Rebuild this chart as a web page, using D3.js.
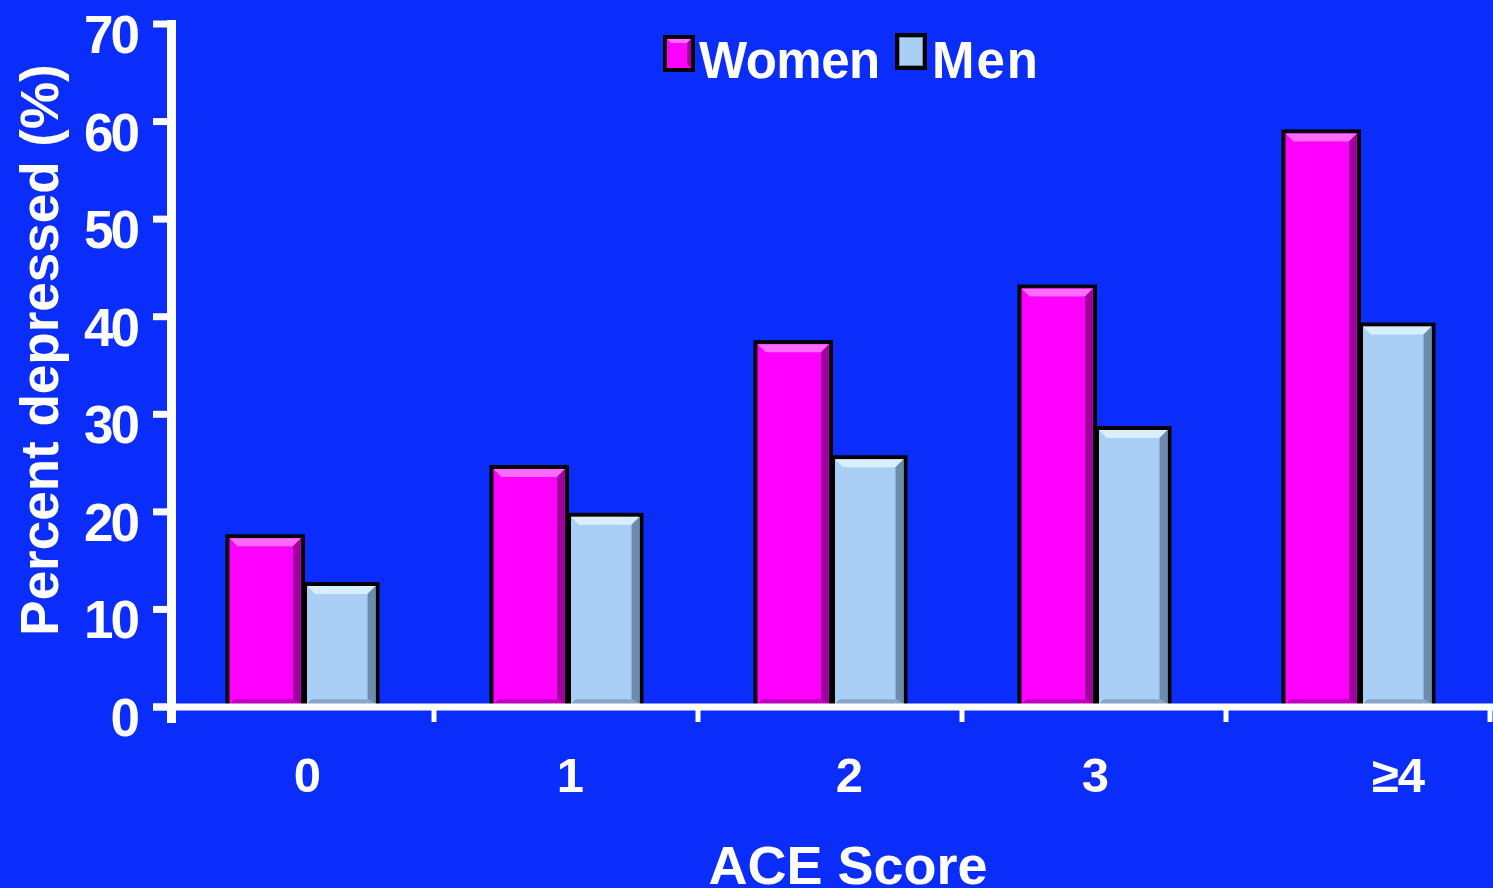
<!DOCTYPE html>
<html><head><meta charset="utf-8">
<script src="https://cdn.jsdelivr.net/npm/d3@7"></script>
<style>
html,body{margin:0;padding:0;background:#0a2dfc;overflow:hidden;}
text{font-family:"Liberation Sans",Arial,sans-serif;font-weight:bold;fill:#fff;}
</style></head>
<body><svg id="c" width="1493" height="888"></svg>
<script>
const categories = ["0","1","2","3","\u22654"];
const series = ["Women","Men"];
const women = [17.7, 24.8, 37.6, 43.3, 59.2];
const men = [12.8, 19.9, 25.8, 28.8, 39.4];
const yTicks = [0,10,20,30,40,50,60,70];
// small layout nudges for category labels (px), matching the original slide
const labelNudge = [5, 4, 19, 1, 40];

const colors = {
  Women:{base:"#ff00ff", light:"#ff6bff", dark:"#a1009e", bottom:"#c000bf"},
  Men:{base:"#aacff5", light:"#d9efff", dark:"#6d8cad", bottom:"#89a6c6"}
};

const svg = d3.select("#c");
svg.append("rect").attr("width",1493).attr("height",888).attr("fill","#0a2dfc");

const x0 = d3.scaleBand().domain(categories).range([170,1490]).padding(0);
const x1 = d3.scaleBand().domain(series).range([0,x0.bandwidth()]).paddingInner(0).paddingOuter(0.725);
const y = d3.scaleLinear().domain([0,70]).range([707,24]);

const data = categories.map((c,i)=>({cat:c, vals:[{s:"Women",v:women[i]},{s:"Men",v:men[i]}]}));

const bw = x1.bandwidth();
const bevel = 8;
const g = svg.append("g");
const pts = a => a.map(p=>p.join(",")).join(" ");
data.forEach(d=>{
  d.vals.forEach(e=>{
    const c = colors[e.s];
    const xl = x0(d.cat)+x1(e.s) + (e.s==="Women"? 0 : 1), xr = x0(d.cat)+x1(e.s)+bw + (e.s==="Women"? 3 : 1);
    const yt = y(e.v), yb = y(0)-3;
    const bg = g.append("g");
    bg.append("rect").attr("x",xl).attr("y",yt).attr("width",xr-xl).attr("height",yb-yt).attr("fill","#000");
    const il = xl+4, ir = xr-4, it = yt+4, ib = yb;
    bg.append("rect").attr("x",il).attr("y",it).attr("width",ir-il).attr("height",ib-it).attr("fill",c.base);
    bg.append("polygon").attr("points",pts([[il,it],[ir,it],[ir-bevel,it+bevel],[il+bevel,it+bevel]])).attr("fill",c.light);
    bg.append("polygon").attr("points",pts([[ir,it],[ir,ib],[ir-bevel,ib-bevel*0.6],[ir-bevel,it+bevel]])).attr("fill",c.dark);
    bg.append("polygon").attr("points",pts([[il,ib],[ir,ib],[ir-bevel,ib-bevel*0.6],[il+bevel*0.6,ib-bevel*0.6]])).attr("fill",c.bottom);
  });
});

// x axis
svg.append("line").attr("x1",153).attr("x2",1493).attr("y1",y(0)).attr("y2",y(0)).attr("stroke","#fff").attr("stroke-width",7);
const bounds = categories.map(c=>x0(c)).concat([x0.range()[1]]);
bounds.forEach((b,i)=>{
  if(i===0) return;
  svg.append("line").attr("x1",b).attr("x2",b).attr("y1",y(0)).attr("y2",722).attr("stroke","#fff").attr("stroke-width",5);
});
// y axis
svg.append("line").attr("x1",171.5).attr("x2",171.5).attr("y1",20).attr("y2",723).attr("stroke","#fff").attr("stroke-width",9);
yTicks.forEach(t=>{
  svg.append("line").attr("x1",153).attr("x2",171).attr("y1",y(t)).attr("y2",y(t)).attr("stroke","#fff").attr("stroke-width",7);
  svg.append("text").attr("x",137).attr("y",y(t)+29).attr("text-anchor","end")
    .attr("font-size",53).attr("letter-spacing",-3).text(t);
});
// x labels
categories.forEach((c,i)=>{
  svg.append("text").attr("x",x0(c)+x0.bandwidth()/2+labelNudge[i]).attr("y",792).attr("text-anchor","middle")
    .attr("font-size",49).attr("letter-spacing",-1).text(c);
});
// axis titles
svg.append("text").attr("x",848).attr("y",884).attr("text-anchor","middle").attr("font-size",54).text("ACE Score");
svg.append("text").attr("transform","translate(58,350) rotate(-90)").attr("text-anchor","middle").attr("font-size",53).text("Percent depressed (%)");

// legend
const leg = [{s:"Women",x:663,y:35,tx:699,ls:-0.5},{s:"Men",x:895,y:33,tx:932,ls:2}];
leg.forEach(l=>{
  const c = colors[l.s];
  svg.append("rect").attr("x",l.x).attr("y",l.y).attr("width",32).attr("height",37).attr("fill","#000");
  svg.append("rect").attr("x",l.x+4).attr("y",l.y+4).attr("width",24).attr("height",29).attr("fill",c.base);
  if(l.s==="Women"){
    svg.append("polygon").attr("points",pts([[l.x+4,l.y+4],[l.x+28,l.y+4],[l.x+24,l.y+8],[l.x+8,l.y+8]])).attr("fill",c.light);
    svg.append("polygon").attr("points",pts([[l.x+28,l.y+4],[l.x+28,l.y+33],[l.x+24,l.y+29],[l.x+24,l.y+8]])).attr("fill",c.dark);
  } else {
    svg.append("rect").attr("x",l.x+4.5).attr("y",l.y+4.5).attr("width",23).attr("height",28).attr("fill","none").attr("stroke","#6d8cad").attr("stroke-width",1);
  }
  svg.append("text").attr("x",l.tx).attr("y",78).attr("font-size",51).attr("letter-spacing",l.ls).text(l.s);
});
</script></body></html>
